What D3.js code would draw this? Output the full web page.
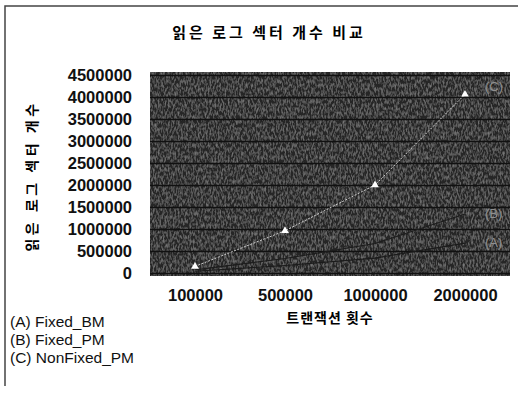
<html>

<head>
    <script src="https://d3js.org/d3.v7.min.js"></script>
    <style>
        body {
            margin: 0;
            background: #fff;
        }

        .axis text {
            font-family: "Liberation Sans", Arial, sans-serif;
            font-size: 16.5px;
            font-weight: bold;
            fill: #111;
        }

        .gridlines line {
            stroke: #111;
            stroke-width: 1.5;
        }
    </style>
</head>

<body>
    <svg height="393" width="518" id="chartSvg"></svg>
    <script>
        // data
        const categories = ["100000", "500000", "1000000", "2000000"];
        const yTicks = [0, 500000, 1000000, 1500000, 2000000, 2500000, 3000000, 3500000, 4000000, 4500000];
        const seriesNames = ["(A) Fixed_BM", "(B) Fixed_PM", "(C) NonFixed_PM"];
        const seriesTags = ["(A)", "(B)", "(C)"];
        const valuesA = [40000, 170000, 340000, 680000];
        const valuesB = [70000, 330000, 670000, 1340000];
        const valuesC = [150000, 960000, 2000000, 4060000];

        const svg = d3.select("#chartSvg");
        const margins = { top: 72, right: 8, bottom: 117, left: 150 };
        const chartWidth = 518 - margins.left - margins.right;
        const chartHeight = 393 - margins.top - margins.bottom;

        // outer frame (only top + left visible in the scan)
        svg.append("path")
            .attr("d", "M5,386 L5,6 L518,6")
            .attr("fill", "none")
            .attr("stroke", "#444")
            .attr("stroke-width", 1.5);

        // title
        svg.append("text")
            .attr("x", 269)
            .attr("y", 38)
            .attr("text-anchor", "middle")
            .style("font-family", "'Noto Sans CJK KR', sans-serif")
            .style("font-size", "15px")
            .style("font-weight", "bold")
            .style("letter-spacing", "3px")
            .text("읽은 로그 섹터 개수 비교");

        const chartArea = svg.append("g")
            .attr("transform", `translate(${margins.left},${margins.top})`);

        const xScale = d3.scalePoint().domain(categories)
            .range([0, chartWidth]).padding(0.5);
        const yScale = d3.scaleLinear().domain([0, 4500000])
            .range([chartHeight - 3, 3]);

        // grainy dark plot background
        const defs = svg.append("defs");
        const f = defs.append("filter").attr("id", "grain")
            .attr("x", 0).attr("y", 0).attr("width", 1).attr("height", 1);
        f.append("feTurbulence").attr("type", "fractalNoise")
            .attr("baseFrequency", "0.6 0.25").attr("numOctaves", 2).attr("seed", 7)
            .attr("result", "noise");
        f.append("feColorMatrix").attr("in", "noise").attr("type", "matrix")
            .attr("values", "0 0 0 0 0.36  0 0 0 0 0.36  0 0 0 0 0.36  1.1 0 0 0 -0.45")
            .attr("result", "tint");
        f.append("feComposite").attr("in", "tint").attr("in2", "SourceGraphic").attr("operator", "in")
            .attr("result", "dots");
        f.append("feMerge").selectAll("feMergeNode")
            .data(["SourceGraphic", "dots"]).join("feMergeNode").attr("in", d => d);

        chartArea.append("rect")
            .attr("width", chartWidth)
            .attr("height", chartHeight)
            .attr("fill", "#262626")
            .attr("filter", "url(#grain)");

        const gridLines = d3.axisLeft(yScale).tickValues(yTicks).tickFormat("").tickSize(-chartWidth);
        chartArea.append("g")
            .attr("class", "gridlines")
            .call(gridLines)
            .call(g => g.select(".domain").remove());

        // axes
        const leftAxis = d3.axisLeft(yScale).tickValues(yTicks).tickFormat(d3.format("d")).tickSize(0).tickPadding(18);
        svg.append("g")
            .attr("class", "axis")
            .attr("transform", `translate(${margins.left},${margins.top})`)
            .call(leftAxis)
            .call(g => g.select(".domain").remove());

        const bottomAxis = d3.axisBottom(xScale).tickSize(0).tickPadding(13);
        svg.append("g")
            .attr("class", "axis")
            .attr("transform", `translate(${margins.left},${margins.top + chartHeight})`)
            .call(bottomAxis)
            .call(g => g.select(".domain").remove());

        // axis titles
        svg.append("text")
            .attr("text-anchor", "middle")
            .attr("transform", "translate(37,176) rotate(-90)")
            .style("font-family", "'Noto Sans CJK KR', sans-serif")
            .style("font-size", "14px")
            .style("font-weight", "bold")
            .style("letter-spacing", "3.5px")
            .text("읽은 로그 섹터 개수");

        svg.append("text")
            .attr("text-anchor", "middle")
            .attr("x", 330)
            .attr("y", 323)
            .style("font-family", "'Noto Sans CJK KR', sans-serif")
            .style("font-size", "14px")
            .style("font-weight", "bold")
            .style("letter-spacing", "1px")
            .text("트랜잭션 횟수");

        // series lines
        const series = [valuesA, valuesB, valuesC];
        const lineColors = ["#1b1b1b", "#1d1d1d", "#cfcfcf"];
        const line = d3.line()
            .x((d, i) => xScale(categories[i]))
            .y(d => yScale(d));

        series.forEach((vals, s) => {
            chartArea.append("path")
                .datum(vals)
                .attr("fill", "none")
                .attr("stroke", lineColors[s])
                .attr("stroke-width", s === 2 ? 1 : 1.2)
                .attr("stroke-dasharray", s === 2 ? "2,1.5" : null)
                .attr("d", line);
        });

        // white triangle markers on C
        chartArea.selectAll(".mark").data(valuesC)
            .join("path")
            .attr("class", "mark")
            .attr("transform", (d, i) => `translate(${xScale(categories[i])},${yScale(d)})`)
            .attr("d", d3.symbol(d3.symbolTriangle, 26))
            .attr("fill", "#fff");

        // dim tags near line ends
        const lastIdx = categories.length - 1;
        const tagOffsets = [0, 0, -7];
        series.forEach((vals, s) => {
            chartArea.append("text")
                .attr("x", xScale(categories[lastIdx]) + 20)
                .attr("y", yScale(vals[lastIdx]) + tagOffsets[s] + 4)
                .style("font-family", "'Liberation Sans', sans-serif")
                .style("font-size", "13px")
                .style("fill", "#909090")
                .text(seriesTags[s]);
        });

        // legend text
        svg.selectAll(".legend").data(seriesNames)
            .join("text")
            .attr("class", "legend")
            .attr("x", 10)
            .attr("y", (d, i) => 327 + i * 18)
            .style("font-family", "'Liberation Sans', sans-serif")
            .style("font-size", "15.5px")
            .style("fill", "#111")
            .text(d => d);
    </script>
</body>

</html>
